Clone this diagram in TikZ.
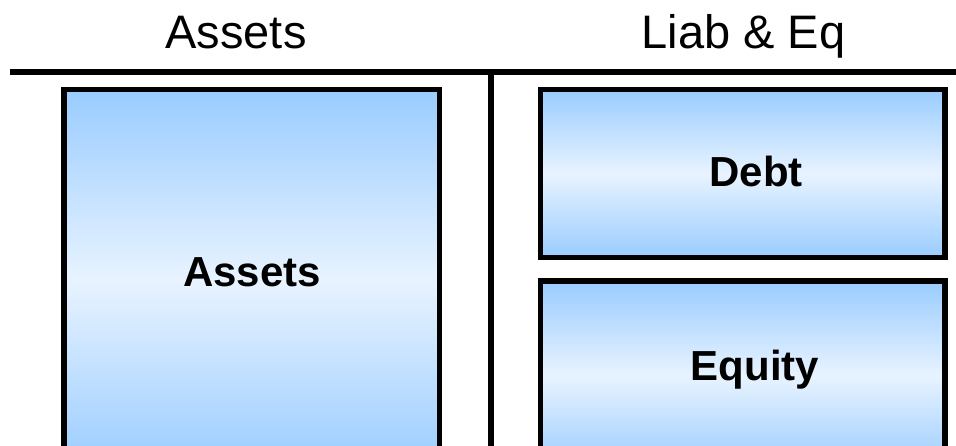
\documentclass[tikz,border=0pt]{standalone}
\usepackage{fontspec}
\setmainfont{Liberation Sans}
\definecolor{boxblue}{HTML}{99CCFF}
\definecolor{boxlight}{HTML}{E8F3FF}
\tikzset{
  acct/.style={draw=black, line width=5.5pt, top color=boxblue, bottom color=boxblue, middle color=boxlight},
  rule/.style={draw=black, line width=6pt},
  head/.style={anchor=base, inner sep=0pt, font=\fontsize{47}{56}\selectfont},
  lbl/.style={anchor=base, inner sep=0pt, font=\fontsize{42}{50}\selectfont\bfseries}
}
\begin{document}
\begin{tikzpicture}[x=1pt,y=-1pt]
\clip (0,0) rectangle (956,446);
\fill[white] (0,0) rectangle (956,446);
% boxes
\path[acct] (64,89.5) rectangle (439.5,470);
\path[acct] (540.5,89.5) rectangle (945,257.5);
\path[acct] (540.5,281) rectangle (945,470);
% rules
\coordinate (hl) at (10,72);
\coordinate (hr) at (960,72);
\coordinate (vt) at (490.5,72);
\coordinate (vb) at (490.5,460);
\draw[rule] (hl) -- (hr);
\draw[rule] (vt) -- (vb);
% headers
\node[head] (hA) at (236,49) {Assets};
\node[head] (hL) at (743.5,49) {Liab \& Eq};
% labels
\node[lbl] (tA) at (252,287) {Assets};
\node[lbl] (tD) at (756,187) {Debt};
\node[lbl] (tE) at (755,380) {Equity};
\end{tikzpicture}
\end{document}
